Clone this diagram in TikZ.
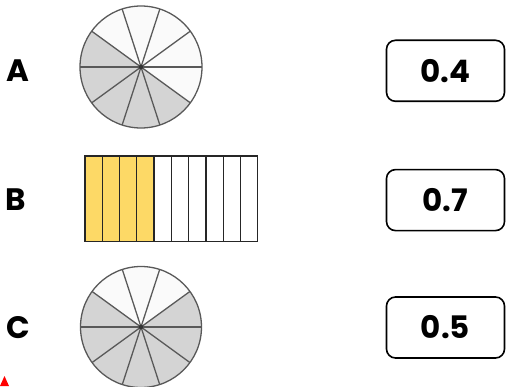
\documentclass[tikz,border=0pt]{standalone}
\usepackage{fontspec}
\setmainfont{Poppins}
\begin{document}
\begin{tikzpicture}[x=1pt,y=1pt,
  lbl/.style={font=\fontsize{31}{31}\selectfont\bfseries, inner sep=0pt},
  valbox/.style={draw=black, line width=1.6pt, rounded corners=9pt, minimum width=118pt, minimum height=61pt, inner sep=0pt, font=\fontsize{31}{31}\selectfont\bfseries},
  pieline/.style={draw=black!65, line width=1.3pt},
  shadefill/.style={fill=black!17},
  barline/.style={draw=black!85, line width=1.3pt}]
\useasboundingbox (0,0) rectangle (506,386);
% labels
\node[lbl] (la) at (18,315) {A};
\node[lbl] (lb) at (16,186) {B};
\node[lbl] (lc) at (18.5,58) {C};
% pie A
\coordinate (ca) at (141,319);
\fill[black!2] (ca) circle[radius=61];
\fill[shadefill] (ca) -- ++(144:61) arc[start angle=144,end angle=324,radius=61] -- cycle;
\foreach \a in {0,36,...,324} {\draw[pieline] (ca) -- ++(\a:61);}
\draw[pieline] (ca) circle[radius=61];
\fill[black!80] (ca) circle[radius=2.2];
% bar B
\fill[fill={rgb,255:red,253;green,217;blue,102}] (85,144.3) rectangle (154.1,230);
\foreach \i in {0,...,10} {\draw[barline] (85+\i*17.27,144.3) -- (85+\i*17.27,230);}
\draw[barline] (85,144.3) rectangle (257.7,230);
% pie C
\coordinate (cc) at (141,59);
\fill[black!2] (cc) circle[radius=60.5];
\fill[shadefill] (cc) -- ++(144:60.5) arc[start angle=144,end angle=396,radius=60.5] -- cycle;
\foreach \a in {0,36,...,324} {\draw[pieline] (cc) -- ++(\a:60.5);}
\draw[pieline] (cc) circle[radius=60.5];
\fill[black!80] (cc) circle[radius=2.2];
% value boxes
\node[valbox] (b1) at (445.5,315.2) {0.4};
\node[valbox] (b2) at (445.5,185.9) {0.7};
\node[valbox] (b3) at (445.5,58.5) {0.5};
% red marker
\fill[red] (0,0) -- (9,0) -- (4.5,10) -- cycle;
\end{tikzpicture}
\end{document}
